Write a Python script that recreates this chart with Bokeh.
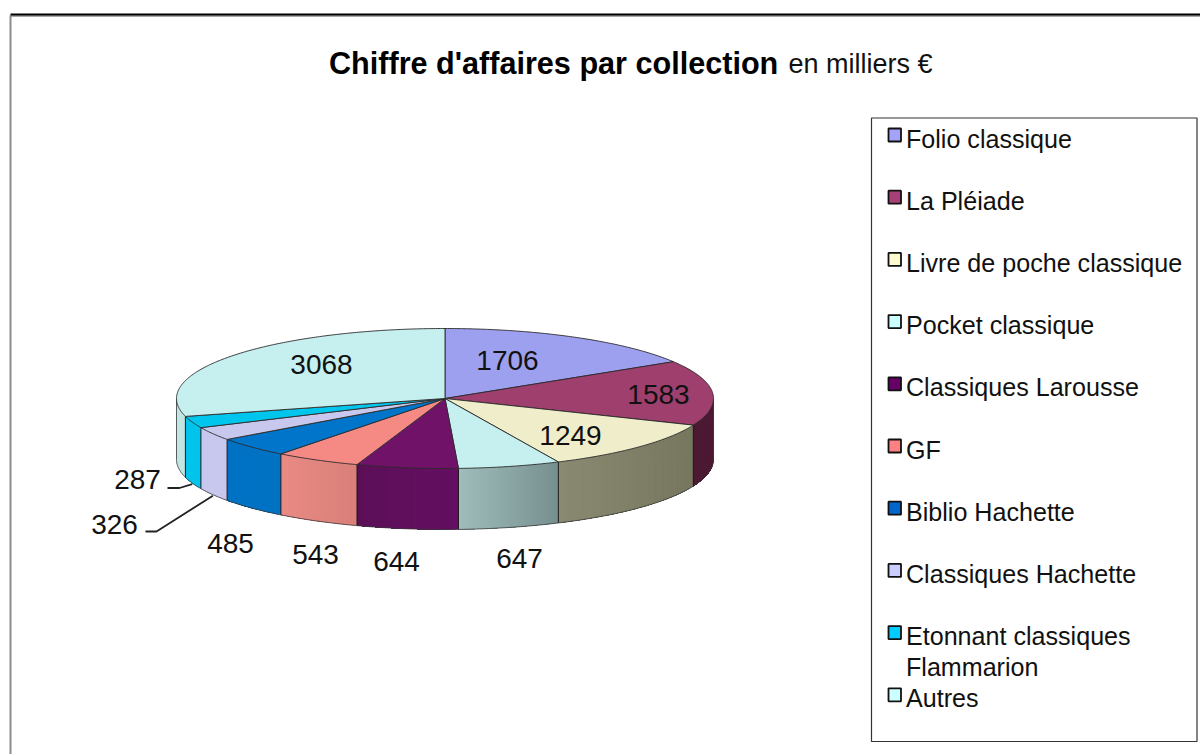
import numpy as np
from bokeh.plotting import figure
from bokeh.models import Range1d
from bokeh.core.properties import value
from bokeh.embed import file_html
from bokeh.resources import INLINE

# ---- data ----
categories = ["Folio classique", "La Pléiade", "Livre de poche classique", "Pocket classique",
              "Classiques Larousse", "GF", "Biblio Hachette", "Classiques Hachette",
              "Etonnant classiques\nFlammarion", "Autres"]
values = [1706, 1583, 1249, 647, 644, 543, 485, 326, 287, 3068]

# ---- styles ----
top_colors = ["#9da0ee", "#9e3f6e", "#f0eeca", "#c6efef", "#701268",
              "#f58a85", "#0075c9", "#c8c8ee", "#00c6ee", "#c6efef"]
side_left = ["#9da0ee", "#4d1a33", "#8a8a72", "#9fbdbb", "#5c0f58",
             "#e98a85", "#0072c4", "#c8c8ee", "#00c4ec", "#c2e8e6"]
side_right = ["#9da0ee", "#4d1a33", "#77775f", "#76908f", "#640f62",
              "#d98079", "#0072c4", "#c8c8ee", "#00c4ec", "#bfe3e1"]
legend_colors = ["#a3a3fb", "#a84078", "#fbfbcf", "#ccffff", "#660066",
                 "#ff8080", "#0066cc", "#ccccff", "#00ccff", "#ccffff"]

CX, CY, RX, RY, DEPTH = 444.5, 398.0, 268.5, 70.0, 61.0
FONT = value("Liberation Sans")


def hex2rgb(h):
    return np.array([int(h[i:i + 2], 16) for i in (1, 3, 5)], float)


def mix(a, b, t):
    c = hex2rgb(a) * (1 - t) + hex2rgb(b) * t
    return "#%02x%02x%02x" % tuple(int(round(v)) for v in c)


def ex(a):
    return CX + RX * np.sin(np.radians(a))


def ey(a):
    return CY - RY * np.cos(np.radians(a))


p = figure(width=1200, height=754, output_backend="svg", toolbar_location=None,
           x_range=Range1d(0, 1200), y_range=Range1d(754, 0), min_border=0,
           background_fill_color="white", border_fill_color="white", outline_line_color=None)
p.axis.visible = False
p.grid.visible = False

# chart frame
p.line([10, 10], [15, 754], line_color="#8c8c8c", line_width=2)
p.line([10, 1200], [15.5, 15.5], line_color="#8c8c8c", line_width=1.5)
p.line([10, 1200], [14, 14], line_color="#000000", line_width=2)

total = sum(values)
edges = np.concatenate([[0], np.cumsum(values)]) / total * 360.0

# rim: only the front half of the ellipse (90..270 deg) can be seen.
# Strips are painted in order, each overlapping the next, so no seams show.
xs, ys, cols = [], [], []
seps = []
for i in range(len(values)):
    a0, a1 = max(edges[i], 90.0), min(edges[i + 1], 270.0)
    if a1 <= a0:
        continue
    n = max(2, int((a1 - a0) * 2))
    grid = np.linspace(a0, a1, n + 1)
    x_lo, x_hi = ex(a1), ex(a0)
    for u, v in zip(grid[:-1], grid[1:]):
        g2 = np.linspace(u, a1, max(2, int((a1 - u) * 2) + 1))
        t = ((ex(u) + ex(v)) / 2 - x_lo) / max(x_hi - x_lo, 1e-6)
        xs.append(np.concatenate([ex(g2), ex(g2[::-1])]))
        ys.append(np.concatenate([ey(g2), ey(g2[::-1]) + DEPTH]))
        cols.append(mix(side_left[i], side_right[i], t))
    seps += [a0, a1]
p.patches(xs, ys, fill_color=cols, line_color=None)

# separators and rim outline
sep_angles = [a for a in sorted(set(np.round(seps, 6))) if 90 < a < 270]
p.multi_line([[ex(a), ex(a)] for a in sep_angles],
             [[ey(a), ey(a) + DEPTH] for a in sep_angles], line_color="#1a1a1a", line_width=1)
arc = np.linspace(90, 270, 361)
p.line(ex(arc), ey(arc) + DEPTH, line_color="#3a3a3a", line_width=0.8)
p.line([ex(90), ex(90)], [ey(90), ey(90) + DEPTH], line_color="#3a3a3a", line_width=0.8)
p.line([ex(270), ex(270)], [ey(270), ey(270) + DEPTH], line_color="#3a3a3a", line_width=0.8)

# top wedges
wx, wy = [], []
for i in range(len(values)):
    g = np.linspace(edges[i], edges[i + 1], max(3, int(edges[i + 1] - edges[i]) * 2))
    wx.append(np.concatenate([[CX], ex(g)]))
    wy.append(np.concatenate([[CY], ey(g)]))
p.patches(wx, wy, fill_color=top_colors, line_color="#2a2a2a", line_width=0.9)

# leader lines of the two smallest slices
mids = (edges[:-1] + edges[1:]) / 2
p.line([145, 156, ex(mids[7])], [531, 531, ey(mids[7]) + DEPTH + 1], line_color="#222222", line_width=1.8)
p.line([167, 179, ex(mids[8])], [487.5, 487.5, ey(mids[8]) + DEPTH + 1], line_color="#222222", line_width=1.8)

# value labels
label_x = [507, 658, 570, 519, 396, 315, 230, 114, 137, 321]
label_y = [360, 394, 434.5, 557.5, 560.5, 553.5, 542.5, 523.5, 479, 364]
p.text(label_x, label_y, text=[str(v) for v in values], text_font=FONT, text_font_size="28px",
       text_color="#111111", text_align="center", text_baseline="middle")

# title
p.text([328.5], [62], text=["Chiffre d'affaires par collection"], text_font=FONT, text_font_style="bold",
       text_font_size="30.6px", text_color="#000000", text_baseline="middle")
p.text([788], [63.5], text=["en milliers €"], text_font=FONT, text_font_size="27px",
       text_color="#111111", text_baseline="middle")

# legend
p.quad(left=[871], right=[1196.5], top=[117.5], bottom=[741], fill_color="white",
       line_color="#333333", line_width=1.2)
leg_y = [138 + 62.2 * k for k in range(10)]
p.quad(left=[888] * 10, right=[900.5] * 10, top=[y - 10 for y in leg_y], bottom=[y + 3 for y in leg_y],
       fill_color=legend_colors, line_color="#111111", line_width=1.8)
leg_text, leg_tx, leg_ty = [], [], []
for name, y in zip(categories, leg_y):
    for j, part in enumerate(name.split("\n")):
        leg_text.append(part)
        leg_tx.append(905.5)
        leg_ty.append(y + j * 30.5)
p.text(leg_tx, leg_ty, text=leg_text, text_font=FONT, text_font_size="25.1px",
       text_color="#111111", text_baseline="middle")

open("out.html", "w").write(file_html(p, INLINE))
